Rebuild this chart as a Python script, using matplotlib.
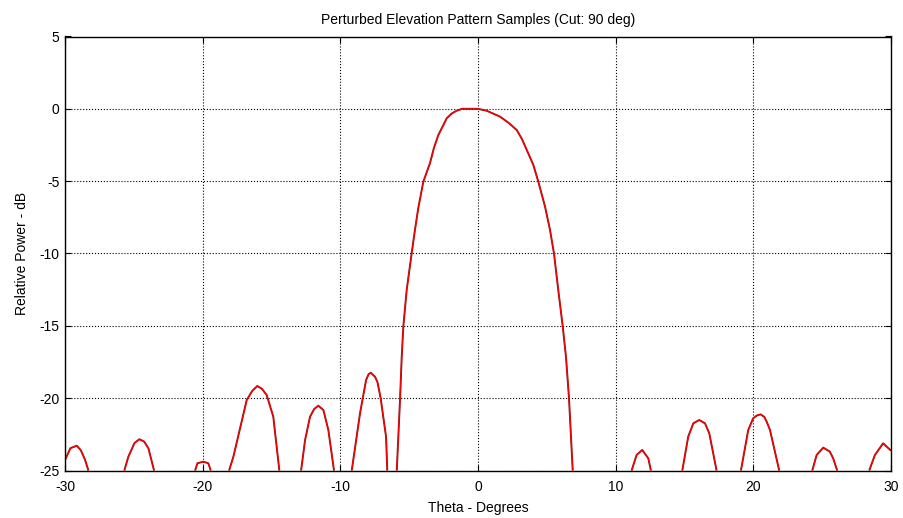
import numpy as np
import matplotlib.pyplot as plt

plt.rcParams['font.family'] = ['Liberation Sans', 'DejaVu Sans']
plt.rcParams['axes.unicode_minus'] = False

nan = np.nan

# pattern samples (lobes separated by NaN where the curve drops below -25 dB)
theta_deg = [
    -30.0, -29.6, -29.14, -28.85, -28.54, -28.30, nan,
    -25.69, -25.40, -24.95, -24.60, -24.25, -23.94, -23.53, nan,
    -20.55, -20.38, -19.95, -19.59, -19.41, nan,
    -18.08, -17.77, -16.80, -16.40, -16.03, -15.70, -15.35, -14.87, -14.43, nan,
    -12.85, -12.56, -12.20, -11.90, -11.60, -11.23, -10.87, -10.46, nan,
    -9.17, -8.57, -8.13, -7.95, -7.79, -7.48, -7.30, -7.07, -6.68, -6.59, nan,
    -5.90, -5.66, -5.54, -5.42, -5.18, -4.82, -4.58, -4.34, -3.97, -3.49, -3.20, -2.88, -2.27, -1.90,
    -1.55, -1.16, 0.0, 0.63, 1.60, 2.20, 2.81, 3.20, 3.54, 4.02, 4.38, 4.87, 5.23, 5.52, 5.83, 6.15,
    6.39, 6.61, 6.88, nan,
    11.16, 11.52, 11.93, 12.37, 12.56, nan,
    14.84, 15.27, 15.64, 16.07, 16.49, 16.80, 17.33, nan,
    19.10, 19.63, 19.99, 20.25, 20.53, 20.80, 20.97, 21.21, 21.88, nan,
    24.28, 24.60, 25.08, 25.56, 25.80, 26.09, nan,
    28.42, 28.83, 29.43, 30.0,
]
power_db = [
    -24.27, -23.45, -23.29, -23.6, -24.27, -25.0, nan,
    -25.0, -24.05, -23.1, -22.84, -23.0, -23.47, -25.0, nan,
    -25.0, -24.5, -24.39, -24.5, -25.0, nan,
    -25.0, -24.05, -20.13, -19.5, -19.16, -19.35, -19.78, -21.28, -25.0, nan,
    -25.0, -22.89, -21.28, -20.75, -20.52, -20.82, -22.20, -25.0, nan,
    -25.0, -21.05, -18.75, -18.35, -18.24, -18.52, -18.9, -20.01, -22.66, -25.0, nan,
    -25.0, -20.0, -17.13, -15.0, -12.52, -10.0, -8.37, -6.87, -5.03, -3.76, -2.7, -1.81, -0.65, -0.32,
    -0.13, 0.0, 0.0, -0.13, -0.54, -0.95, -1.46, -2.1, -2.84, -3.88, -5.03, -6.76, -8.37, -10.0, -12.52, -15.0,
    -17.13, -20.0, -25.0, nan,
    -25.0, -23.93, -23.58, -24.16, -25.0, nan,
    -25.0, -22.66, -21.74, -21.51, -21.74, -22.43, -25.0, nan,
    -25.0, -22.2, -21.39, -21.2, -21.12, -21.3, -21.63, -22.2, -25.0, nan,
    -25.0, -23.93, -23.42, -23.70, -24.16, -25.0, nan,
    -25.0, -23.93, -23.12, -23.63,
]

x_ticks = [-30, -20, -10, 0, 10, 20, 30]
y_ticks = [5, 0, -5, -10, -15, -20, -25]

fig = plt.figure(figsize=(9.04, 5.18), dpi=100)
ax = fig.add_axes([65 / 904, 1 - 470.5 / 518, 826 / 904, 434 / 518])

ax.plot(theta_deg, power_db, color='#a01414', lw=1.4, solid_capstyle='butt')
ax.plot(theta_deg, power_db, color='#ff0000', lw=0.7, solid_capstyle='butt')

ax.set_xlim(-30, 30)
ax.set_ylim(-25, 5)
ax.set_xticks(x_ticks)
ax.set_yticks(y_ticks)
ax.grid(True, color='black', linestyle=':', linewidth=0.8)
ax.tick_params(direction='in', top=True, right=True, length=4, width=0.8,
               labelsize=10, colors='black')
ax.tick_params(axis='x', pad=7)
ax.tick_params(axis='y', pad=4)
for s in ax.spines.values():
    s.set_linewidth(1.0)

ax.set_title('Perturbed Elevation Pattern Samples (Cut: 90 deg)', fontsize=10, pad=9)
ax.set_xlabel('Theta - Degrees', fontsize=10, labelpad=5)
ax.set_ylabel('Relative Power - dB', fontsize=10, labelpad=7)

fig.savefig('out.png', dpi=100)
